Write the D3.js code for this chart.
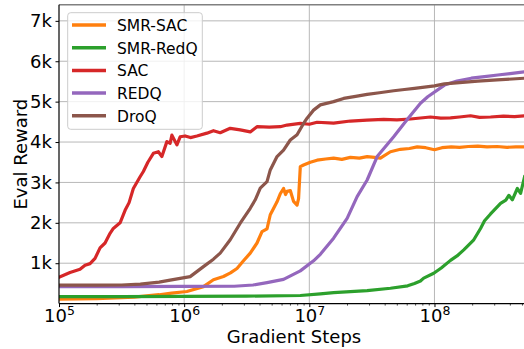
<!DOCTYPE html>
<html><head><meta charset="utf-8">
<script src="https://cdn.jsdelivr.net/npm/d3@7"></script>
<style>
html,body{margin:0;padding:0;background:#fff;}
svg{display:block;font-family:"DejaVu Sans",sans-serif;}
</style></head>
<body><svg id="c" width="524" height="349"></svg>
<script>
// ---- data (x = log10 of gradient steps, y = eval reward) ----
const seriesNames = ["SMR-SAC", "SMR-RedQ", "SAC", "REDQ", "DroQ"];
const seriesColors = ["#ff7f0e", "#2ca02c", "#d62728", "#9467bd", "#8c564b"];

const smrSacLogSteps = [5.0,5.3,5.6,5.8,5.9,6.022,6.154,6.234,6.314,6.37,6.422,6.474,6.528,6.582,6.622,6.662,6.688,6.742,6.768,6.794,6.81,6.822,6.848,6.874,6.902,6.914,6.928,6.954,7.008,7.062,7.13,7.194,7.26,7.328,7.4,7.462,7.52,7.568,7.648,7.728,7.8,7.862,7.93,8.0,8.06,8.134,8.2,8.27,8.346,8.42,8.5,8.58,8.65,8.72];
const smrSacReward   = [110,120,160,220,260,300,420,590,670,760,870,1060,1250,1500,1780,1850,2200,2520,2720,2850,2700,2780,2800,2530,2440,2600,3390,3430,3500,3550,3580,3600,3570,3620,3600,3640,3620,3600,3760,3820,3840,3880,3860,3810,3860,3880,3870,3890,3900,3880,3890,3870,3880,3880];

const smrRedqLogSteps = [5.0,5.5,6.0,6.5,6.928,7.088,7.194,7.462,7.648,7.786,7.84,7.888,7.914,7.994,8.054,8.128,8.18,8.234,8.314,8.368,8.4,8.448,8.528,8.57,8.594,8.622,8.662,8.688,8.72];
const smrRedqReward   = [175,175,180,185,200,240,270,320,380,440,500,560,630,750,880,1070,1180,1330,1580,1860,2050,2220,2480,2560,2680,2570,2850,2730,3140];

const sacLogSteps = [5.0,5.088,5.168,5.208,5.248,5.288,5.328,5.368,5.408,5.434,5.488,5.528,5.56,5.594,5.648,5.674,5.71,5.754,5.794,5.822,5.862,5.888,5.902,5.942,5.968,6.008,6.05,6.102,6.182,6.234,6.288,6.368,6.448,6.528,6.582,6.68,6.768,6.822,6.928,7.0,7.062,7.194,7.328,7.46,7.594,7.7,7.808,7.968,8.05,8.128,8.2,8.288,8.36,8.448,8.55,8.64,8.72];
const sacReward   = [650,770,850,950,990,1120,1380,1500,1740,1860,2000,2310,2500,2850,3140,3270,3500,3720,3760,3640,4010,3970,4170,3930,4130,4150,4110,4150,4220,4280,4230,4340,4300,4250,4380,4370,4380,4420,4460,4440,4490,4470,4520,4540,4560,4550,4570,4620,4590,4600,4620,4650,4610,4620,4640,4630,4650];

const redqLogSteps = [5.0,5.5,6.0,6.4,6.55,6.662,6.794,6.928,7.034,7.088,7.194,7.302,7.382,7.462,7.542,7.674,7.782,7.888,7.946,8.08,8.18,8.294,8.4,8.506,8.62,8.72];
const redqReward   = [420,420,425,430,460,520,600,810,1060,1220,1620,2110,2650,3060,3640,4130,4560,4960,5120,5410,5510,5580,5620,5660,5700,5740];

const droqLogSteps = [5.0,5.3,5.5,5.65,5.8,5.888,6.048,6.154,6.234,6.288,6.368,6.448,6.528,6.568,6.608,6.662,6.688,6.742,6.794,6.848,6.902,6.954,6.982,7.034,7.088,7.194,7.274,7.37,7.462,7.56,7.674,7.76,7.84,7.92,8.0,8.08,8.2,8.346,8.5,8.62,8.72];
const droqReward   = [455,455,460,480,530,580,668,916,1100,1250,1580,1990,2360,2570,2860,3020,3310,3640,3800,4050,4180,4460,4590,4790,4920,5000,5080,5130,5180,5220,5270,5300,5330,5360,5390,5440,5470,5510,5540,5560,5580];

const seriesLogSteps = [smrSacLogSteps, smrRedqLogSteps, sacLogSteps, redqLogSteps, droqLogSteps];
const seriesRewards  = [smrSacReward, smrRedqReward, sacReward, redqReward, droqReward];

const xMajorTicks = [1e5, 1e6, 1e7, 1e8];
const xMajorExponents = ["5", "6", "7", "8"];
const yTicks = [1000, 2000, 3000, 4000, 5000, 6000, 7000];
const yTickLabels = ["1k", "2k", "3k", "4k", "5k", "6k", "7k"];
const xLabel = "Gradient Steps";
const yLabel = "Eval Reward";

// ---- layout ----
const svg = d3.select("#c");
const L = 59, R = 524.3, T = 4.7, B = 303.6;
const x = d3.scaleLog().domain([1e5, Math.pow(10, 8.7176)]).range([L, R]);
const y = d3.scaleLinear().domain([0, 7400]).range([B, T]);

// grid
const grid = svg.append("g");
grid.selectAll(".hg").data(yTicks).enter().append("line")
  .attr("x1", L).attr("x2", R).attr("y1", d => y(d)).attr("y2", d => y(d))
  .attr("stroke", "#b0b0b0").attr("stroke-width", 0.9);
grid.selectAll(".vg").data(xMajorTicks.slice(1)).enter().append("line")
  .attr("y1", T).attr("y2", B).attr("x1", d => x(d)).attr("x2", d => x(d))
  .attr("stroke", "#b0b0b0").attr("stroke-width", 0.9);

// lines
svg.append("clipPath").attr("id", "clip").append("rect")
  .attr("x", L).attr("y", T).attr("width", R - L).attr("height", B - T);
const line = d3.line().x(d => x(Math.pow(10, d[0]))).y(d => y(d[1]));
const lines = svg.append("g").attr("clip-path", "url(#clip)");
seriesNames.forEach((n, i) => {
  const pts = seriesLogSteps[i].map((s, j) => [s, seriesRewards[i][j]]);
  lines.append("path").datum(pts).attr("d", line)
    .attr("fill", "none").attr("stroke", seriesColors[i])
    .attr("stroke-width", 3.2).attr("stroke-linejoin", "round").attr("stroke-linecap", "square");
});

// top spine (gray)
svg.append("line").attr("x1", L).attr("x2", R).attr("y1", T).attr("y2", T)
  .attr("stroke", "#808080").attr("stroke-width", 1.4);

// y axis
const yAxis = d3.axisLeft(y).tickValues(yTicks)
  .tickFormat((d, i) => yTickLabels[i]).tickSize(3.5).tickPadding(3.5);
const yg = svg.append("g").attr("transform", `translate(${L},0)`).call(yAxis);
yg.select(".domain").attr("stroke", "#000").attr("stroke-width", 1.2).attr("d", `M0,${T}V${B}`);
yg.selectAll(".tick line").attr("stroke", "#000").attr("stroke-width", 1);
yg.selectAll("text").attr("font-size", 18).attr("fill", "#000").attr("font-family", "DejaVu Sans");

// x axis minor ticks
const minor = [];
for (let e = 5; e <= 8; e++) for (let k = 2; k <= 9; k++) { const v = k * Math.pow(10, e); if (v <= x.domain()[1]) minor.push(v); }
const xMinor = d3.axisBottom(x).tickValues(minor).tickSize(2).tickFormat("");
const xmg = svg.append("g").attr("transform", `translate(0,${B})`).call(xMinor);
xmg.select(".domain").remove();
xmg.selectAll(".tick line").attr("stroke", "#000").attr("stroke-width", 0.7);

// x axis major
const xAxis = d3.axisBottom(x).tickValues(xMajorTicks).tickSize(3.5).tickPadding(3).tickFormat("");
const xg = svg.append("g").attr("transform", `translate(0,${B})`).call(xAxis);
xg.select(".domain").attr("stroke", "#000").attr("stroke-width", 1.2).attr("d", `M${L},0H${R}`);
xg.selectAll(".tick line").attr("stroke", "#000").attr("stroke-width", 1);
xg.selectAll(".tick").each(function (d, i) {
  const t = d3.select(this).append("text").attr("fill", "#000").attr("y", 18.5)
    .attr("text-anchor", "middle").attr("font-size", 18).attr("font-family", "DejaVu Sans");
  t.append("tspan").text("10");
  t.append("tspan").attr("font-size", 12.5).attr("dy", -7.5).text(xMajorExponents[i]);
});

// axis labels
svg.append("text").attr("x", 294).attr("y", 343.3).attr("text-anchor", "middle")
  .attr("font-size", 18).attr("fill", "#000").text(xLabel);
svg.append("text").attr("transform", `translate(27,${(T + B) / 2}) rotate(-90)`)
  .attr("text-anchor", "middle").attr("font-size", 18).attr("fill", "#000").text(yLabel);

// legend
const lg = svg.append("g");
lg.append("rect").attr("x", 67.7).attr("y", 12.7).attr("width", 134.6).attr("height", 116.6)
  .attr("rx", 3).attr("fill", "#fff").attr("fill-opacity", 0.8)
  .attr("stroke", "#cccccc").attr("stroke-width", 1);
seriesNames.forEach((n, i) => {
  const yy = 25 + i * 22.7;
  lg.append("line").attr("x1", 72).attr("x2", 106).attr("y1", yy).attr("y2", yy)
    .attr("stroke", seriesColors[i]).attr("stroke-width", 3.5);
  lg.append("text").attr("x", 117).attr("y", yy + 5.8).attr("font-size", 15.5)
    .attr("fill", "#000").text(n);
});
</script></body></html>
